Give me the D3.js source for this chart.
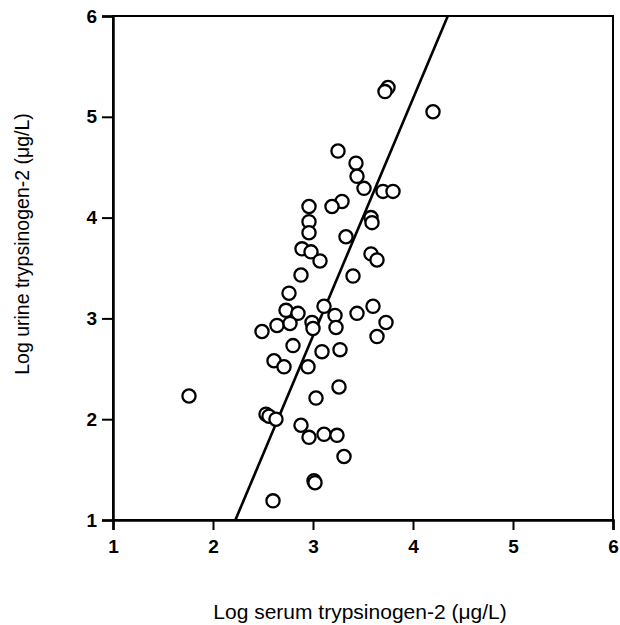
<!DOCTYPE html>
<html>
<head>
<meta charset="utf-8">
<script src="https://cdn.jsdelivr.net/npm/d3@7"></script>
<style>
  body { margin: 0; background: #fff; }
  svg text { font-family: "Liberation Sans", Arial, sans-serif; }
</style>
</head>
<body>
<svg id="chart"></svg>
<script>
// serum (x) and urine (y) log values
const serum = [3.75, 3.72, 4.20, 3.25, 3.43, 3.44, 3.51, 3.70, 3.80, 3.29,
  3.19, 2.96, 2.96, 3.58, 3.59, 2.96, 3.33, 2.89, 2.98, 3.07,
  3.58, 3.64, 2.88, 3.40, 2.76, 2.73, 2.85, 3.11, 3.22, 3.60,
  3.44, 3.73, 2.64, 2.77, 2.99, 3.00, 3.23, 2.49, 3.64, 2.80,
  3.09, 3.27, 2.61, 2.71, 2.95, 1.76, 3.26, 3.03, 2.53, 2.56,
  2.63, 2.88, 2.96, 3.11, 3.24, 3.31, 3.01, 3.02, 2.60];
const urine = [5.29, 5.25, 5.05, 4.66, 4.54, 4.41, 4.29, 4.26, 4.26, 4.16,
  4.11, 4.11, 3.96, 4.00, 3.95, 3.85, 3.81, 3.69, 3.66, 3.57,
  3.64, 3.58, 3.43, 3.42, 3.25, 3.08, 3.05, 3.12, 3.03, 3.12,
  3.05, 2.96, 2.93, 2.95, 2.96, 2.90, 2.91, 2.87, 2.82, 2.73,
  2.67, 2.69, 2.58, 2.52, 2.52, 2.23, 2.32, 2.21, 2.05, 2.03,
  2.00, 1.94, 1.82, 1.85, 1.84, 1.63, 1.39, 1.37, 1.19];

// regression line y = a + b*x
const fitIntercept = -4.235;
const fitSlope = 2.354;

const xTicks = [1, 2, 3, 4, 5, 6];
const yTicks = [1, 2, 3, 4, 5, 6];

const width = 620, height = 625;
const padLeft = 113, padRight = 613, padTop = 16, padBottom = 520;

const svg = d3.select('#chart')
  .attr('width', width)
  .attr('height', height);

const x = d3.scaleLinear().domain([1, 6]).range([padLeft, padRight]);
const y = d3.scaleLinear().domain([1, 6]).range([padBottom, padTop]);

// frame
svg.append('rect')
  .attr('x', padLeft).attr('y', padTop)
  .attr('width', padRight - padLeft).attr('height', padBottom - padTop)
  .attr('fill', 'none')
  .attr('stroke', '#000')
  .attr('stroke-width', 2);

// axes
const xAxis = svg.append('g')
  .attr('transform', `translate(0,${padBottom})`)
  .call(d3.axisBottom(x).tickValues(xTicks).tickSize(10).tickPadding(10).tickFormat(d3.format('d')));
const yAxis = svg.append('g')
  .attr('transform', `translate(${padLeft},0)`)
  .call(d3.axisLeft(y).tickValues(yTicks).tickSize(11).tickPadding(5).tickFormat(d3.format('d')));

[xAxis, yAxis].forEach(g => {
  g.select('.domain').attr('stroke-width', 2.5);
  g.selectAll('.tick line').attr('stroke-width', 2);
  g.selectAll('text')
    .attr('fill', '#000')
    .style('font-size', '19px')
    .style('font-weight', 'bold')
    .style('font-family', '"Liberation Sans", Arial, sans-serif');
});

// regression line, clipped to the plot box
svg.append('clipPath').attr('id', 'plotclip')
  .append('rect')
  .attr('x', padLeft).attr('y', padTop)
  .attr('width', padRight - padLeft).attr('height', padBottom - padTop);

const xLo = (1 - fitIntercept) / fitSlope;
const xHi = (6 - fitIntercept) / fitSlope;
svg.append('line')
  .attr('clip-path', 'url(#plotclip)')
  .attr('x1', x(xLo)).attr('y1', y(fitIntercept + fitSlope * xLo))
  .attr('x2', x(xHi)).attr('y2', y(fitIntercept + fitSlope * xHi))
  .attr('stroke', '#000')
  .attr('stroke-width', 2.6);

// points
const points = serum.map((s, i) => ({ s: s, u: urine[i] }));
svg.append('g')
  .selectAll('circle')
  .data(points)
  .enter().append('circle')
  .attr('cx', d => x(d.s))
  .attr('cy', d => y(d.u))
  .attr('r', 6.6)
  .attr('fill', '#fff')
  .attr('stroke', '#000')
  .attr('stroke-width', 2.3);

// axis titles
svg.append('text')
  .attr('x', 360)
  .attr('y', 619)
  .attr('text-anchor', 'middle')
  .style('font-size', '21px')
  .text('Log serum trypsinogen-2 (μg/L)');

svg.append('text')
  .attr('transform', 'translate(29,244) rotate(-90)')
  .attr('text-anchor', 'middle')
  .style('font-size', '19.5px')
  .text('Log urine trypsinogen-2 (μg/L)');
</script>
</body>
</html>
